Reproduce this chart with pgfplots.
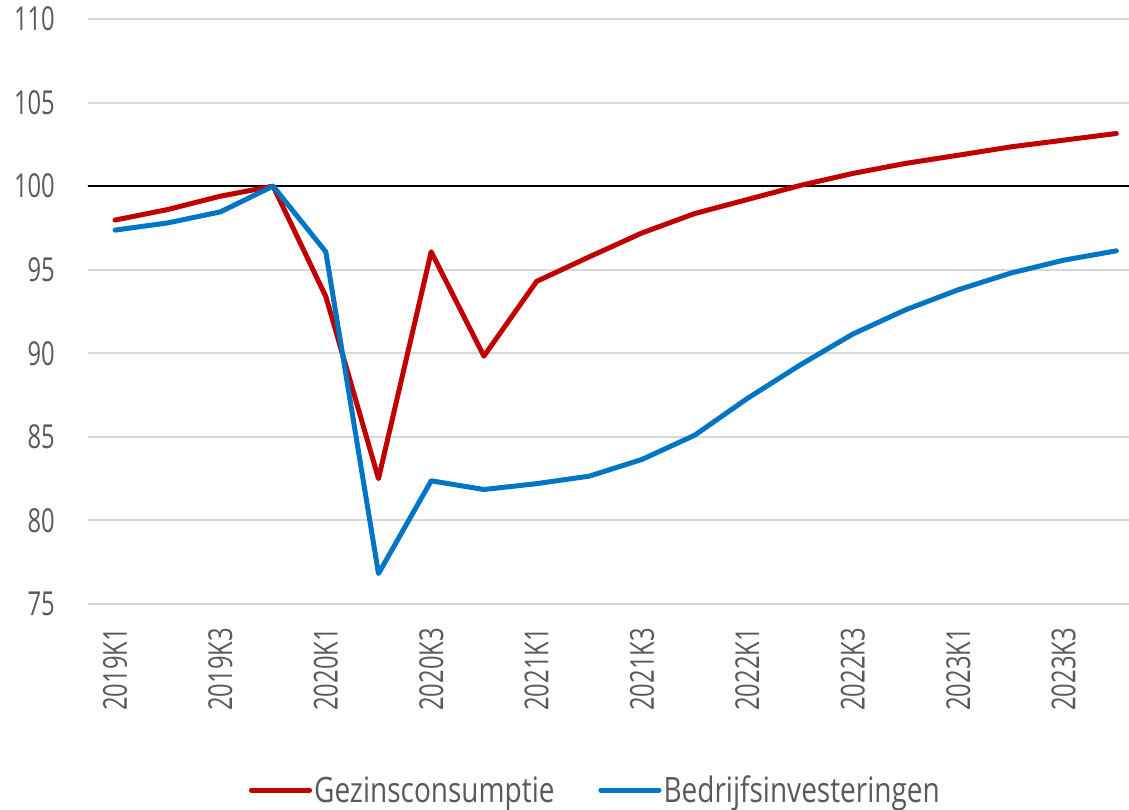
\documentclass[border=0pt]{standalone}
\usepackage{fontspec}
\setmainfont{Open Sans}
\newfontfamily\tickfont[FakeStretch=0.72]{Open Sans}
\newfontfamily\legfont[FakeStretch=0.8]{Open Sans}
\usepackage{pgfplots}
\pgfplotsset{compat=1.18}
\definecolor{cred}{HTML}{C00000}
\definecolor{cblue}{HTML}{0075C4}
\definecolor{gridgray}{HTML}{D9D9D9}
\definecolor{txtgray}{HTML}{595959}
\begin{document}
\begin{tikzpicture}
\useasboundingbox (0,0) rectangle (1129pt,809pt);
\begin{axis}[
  at={(88pt,205pt)}, anchor=south west,
  scale only axis, width=1041pt, height=585pt,
  xmin=-0.512, xmax=19.24,
  ymin=75, ymax=110,
  ytick={75,80,...,110},
  xtick={0,2,...,18},
  xticklabels={2019K1,2019K3,2020K1,2020K3,2021K1,2021K3,2022K1,2022K3,2023K1,2023K3},
  axis line style={draw=none},
  tick style={draw=none},
  ymajorgrids,
  grid style={gridgray, line width=2pt},
  /pgf/number format/assume math mode=true,
  yticklabel style={font={\fontsize{33pt}{36pt}\selectfont\tickfont}, text=txtgray, anchor=east, inner sep=0pt, xshift=-33pt},
  xticklabel style={font={\fontsize{33pt}{36pt}\selectfont\tickfont}, text=txtgray, rotate=90, anchor=east, inner sep=0pt, xshift=-24pt},
  legend columns=2,
  legend style={draw=none, fill=none, at={(0.4875,-0.318)}, anchor=center,
    font={\fontsize{35pt}{38pt}\selectfont\legfont}, text=txtgray,
    /tikz/every even column/.append style={column sep=42pt},
    inner sep=0pt},
  legend image code/.code={\draw[#1, line width=5pt, line cap=round] (0pt,0pt) -- (55pt,0pt); \path (0pt,0pt) -- (58pt,0pt);},
  legend cell align=left,
]
\addplot[black, line width=2pt, forget plot] coordinates {(-1,100) (20,100)};
\addplot[cred, line width=5pt, line join=round, line cap=round] coordinates {
(0,97.97) (1,98.6) (2,99.4) (3,100) (4,93.4) (5,82.5) (6,96.07) (7,89.83) (8,94.3) (9,95.77)
(10,97.2) (11,98.36) (12,99.2) (13,100.04) (14,100.76) (15,101.36) (16,101.85) (17,102.35) (18,102.75) (19,103.15)};
\addlegendentry{Gezinsconsumptie}
\addplot[cblue, line width=5pt, line join=round, line cap=round] coordinates {
(0,97.37) (1,97.8) (2,98.46) (3,100) (4,96.07) (5,76.82) (6,82.37) (7,81.85) (8,82.2) (9,82.65)
(10,83.65) (11,85.1) (12,87.3) (13,89.3) (14,91.15) (15,92.6) (16,93.8) (17,94.8) (18,95.57) (19,96.13)};
\addlegendentry{Bedrijfsinvesteringen}
\end{axis}
\end{tikzpicture}
\end{document}
